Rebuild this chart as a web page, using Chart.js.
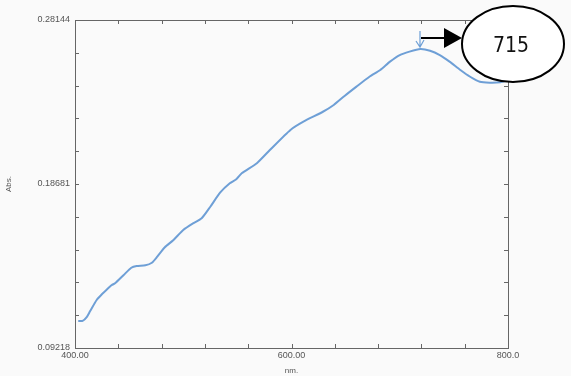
<!DOCTYPE html>
<html>
<head>
<meta charset="utf-8">
<script src="https://cdn.jsdelivr.net/npm/chart.js@4/dist/chart.umd.min.js"></script>
<style>
  body { margin: 0; background: #fafafa; }
  #wrap { width: 571px; height: 376px; position: relative; }
</style>
</head>
<body>
<div id="wrap"><canvas id="chart" width="571" height="376"></canvas></div>
<script>
// Spectrum
const wavelengths = [403, 407, 411, 414, 420, 425, 429, 434, 437, 445, 452, 457, 465, 471, 476, 483, 491,
  500, 509, 517, 525, 534, 543, 549, 554, 568, 580, 599, 611, 629, 639, 649, 660, 672, 682, 691,
  700, 709, 719, 728, 737, 746, 756, 765, 774, 783, 793, 799];
const absorbance = [0.1078, 0.1078, 0.1102, 0.1135, 0.1199, 0.1233, 0.1257, 0.1285, 0.1295, 0.1343, 0.1385, 0.1395, 0.1399, 0.1414, 0.1449, 0.1503, 0.1545,
  0.1603, 0.1641, 0.1670, 0.1737, 0.1818, 0.1872, 0.1895, 0.1930, 0.1988, 0.2064, 0.2180, 0.2228, 0.2285, 0.2324, 0.2376, 0.2430, 0.2487, 0.2526, 0.2574,
  0.2612, 0.2632, 0.2647, 0.2637, 0.2612, 0.2574, 0.2526, 0.2487, 0.2458, 0.2453, 0.2455, 0.2464];

const xMin = 400, xMax = 800, xStep = 40;
const yMin = 0.09218, yMax = 0.28144;
const xTickLabels = { 400: "400.00", 600: "600.00", 800: "800.0" };
const yTickLabels = ["0.09218", "0.18681", "0.28144"];
const peakLabel = "715";
const peakWavelength = 715;

const points = wavelengths.map((w, i) => ({ x: w, y: absorbance[i] }));

// inside tick marks on all four sides + annotation
const framePlugin = {
  id: "frame",
  afterDraw(chart) {
    const ctx = chart.ctx;
    const a = chart.chartArea;
    const xs = chart.scales.x, ys = chart.scales.y;
    ctx.save();
    ctx.strokeStyle = "#666";
    ctx.lineWidth = 1;
    ctx.strokeRect(a.left + 0.5, a.top + 0.5, a.right - a.left, a.bottom - a.top);
    ctx.beginPath();
    for (let v = xMin + xStep; v < xMax; v += xStep) {
      const px = Math.round(xs.getPixelForValue(v)) + 0.5;
      ctx.moveTo(px, a.bottom); ctx.lineTo(px, a.bottom - 4);
      ctx.moveTo(px, a.top); ctx.lineTo(px, a.top + 4);
    }
    const yStep = (yMax - yMin) / 10;
    for (let i = 1; i < 10; i++) {
      const py = Math.round(ys.getPixelForValue(yMin + i * yStep)) + 0.5;
      ctx.moveTo(a.left, py); ctx.lineTo(a.left + 4, py);
      ctx.moveTo(a.right, py); ctx.lineTo(a.right - 4, py);
    }
    ctx.stroke();

    // hand-drawn marker at the peak
    const peakIdx = absorbance.indexOf(Math.max(...absorbance));
    const pxPeak = xs.getPixelForValue(peakWavelength) + 2;
    const pyPeak = ys.getPixelForValue(absorbance[peakIdx]);
    ctx.strokeStyle = "#6e9fd6";
    ctx.lineWidth = 1.2;
    ctx.beginPath();
    ctx.moveTo(pxPeak + 2, pyPeak - 18); ctx.lineTo(pxPeak + 2, pyPeak - 2);
    ctx.moveTo(pxPeak - 2, pyPeak - 8); ctx.lineTo(pxPeak + 2, pyPeak - 2); ctx.lineTo(pxPeak + 6, pyPeak - 9);
    ctx.stroke();

    // arrow to the bubble
    const ay = pyPeak - 11;
    const ex = a.right - 46;
    ctx.strokeStyle = "#000";
    ctx.fillStyle = "#000";
    ctx.lineWidth = 2;
    ctx.beginPath();
    ctx.moveTo(pxPeak + 3, ay); ctx.lineTo(ex - 14, ay);
    ctx.stroke();
    ctx.beginPath();
    ctx.moveTo(ex - 18, ay - 10); ctx.lineTo(ex, ay); ctx.lineTo(ex - 18, ay + 10);
    ctx.closePath();
    ctx.fill();

    // bubble
    const cx = a.right + 5, cy = 44;
    ctx.fillStyle = "#fff";
    ctx.lineWidth = 2;
    ctx.beginPath();
    ctx.ellipse(cx, cy, 51, 38, 0, 0, Math.PI * 2);
    ctx.fill();
    ctx.stroke();
    ctx.fillStyle = "#111";
    ctx.font = "21px 'Liberation Sans Narrow', 'DejaVu Sans Condensed', sans-serif";
    ctx.textAlign = "center";
    ctx.textBaseline = "middle";
    ctx.fillText(peakLabel, cx - 2, cy + 3);
    ctx.restore();
  }
};

new Chart(document.getElementById("chart"), {
  type: "line",
  data: {
    datasets: [{
      data: points,
      borderColor: "#6e9fd6",
      borderWidth: 2,
      pointRadius: 0,
      tension: 0.2,
      fill: false
    }]
  },
  options: {
    responsive: false,
    animation: false,
    layout: { padding: { left: 0, right: 63, top: 20, bottom: 0 } },
    plugins: { legend: { display: false }, tooltip: { enabled: false } },
    scales: {
      x: {
        type: "linear",
        min: xMin,
        max: xMax,
        afterFit: s => { s.height = 28; },
        afterBuildTicks: s => { s.ticks = [400, 600, 800].map(v => ({ value: v })); },
        grid: { display: false, drawTicks: false },
        border: { display: false },
        ticks: {
          autoSkip: false,
          maxRotation: 0,
          padding: 2,
          color: "#555",
          font: { family: "'Liberation Sans', Arial, sans-serif", size: 9 },
          callback: v => xTickLabels[v] || ""
        },
        title: {
          display: true,
          text: "nm.",
          color: "#555",
          padding: { top: 1, bottom: 0 },
          font: { family: "'Liberation Sans', Arial, sans-serif", size: 8 }
        }
      },
      y: {
        min: yMin,
        max: yMax,
        afterFit: s => { s.width = 75; },
        afterBuildTicks: s => { s.ticks = [yMin, (yMin + yMax) / 2, yMax].map(v => ({ value: v })); },
        grid: { display: false, drawTicks: false },
        border: { display: false },
        ticks: {
          autoSkip: false,
          padding: 5,
          color: "#555",
          font: { family: "'Liberation Sans', Arial, sans-serif", size: 9 },
          callback: (v, i) => yTickLabels[i]
        },
        title: {
          display: true,
          text: "Abs.",
          color: "#555",
          padding: { top: 4, bottom: 0 },
          font: { family: "'Liberation Sans', Arial, sans-serif", size: 8 }
        }
      }
    }
  },
  plugins: [framePlugin]
});
</script>
</body>
</html>
